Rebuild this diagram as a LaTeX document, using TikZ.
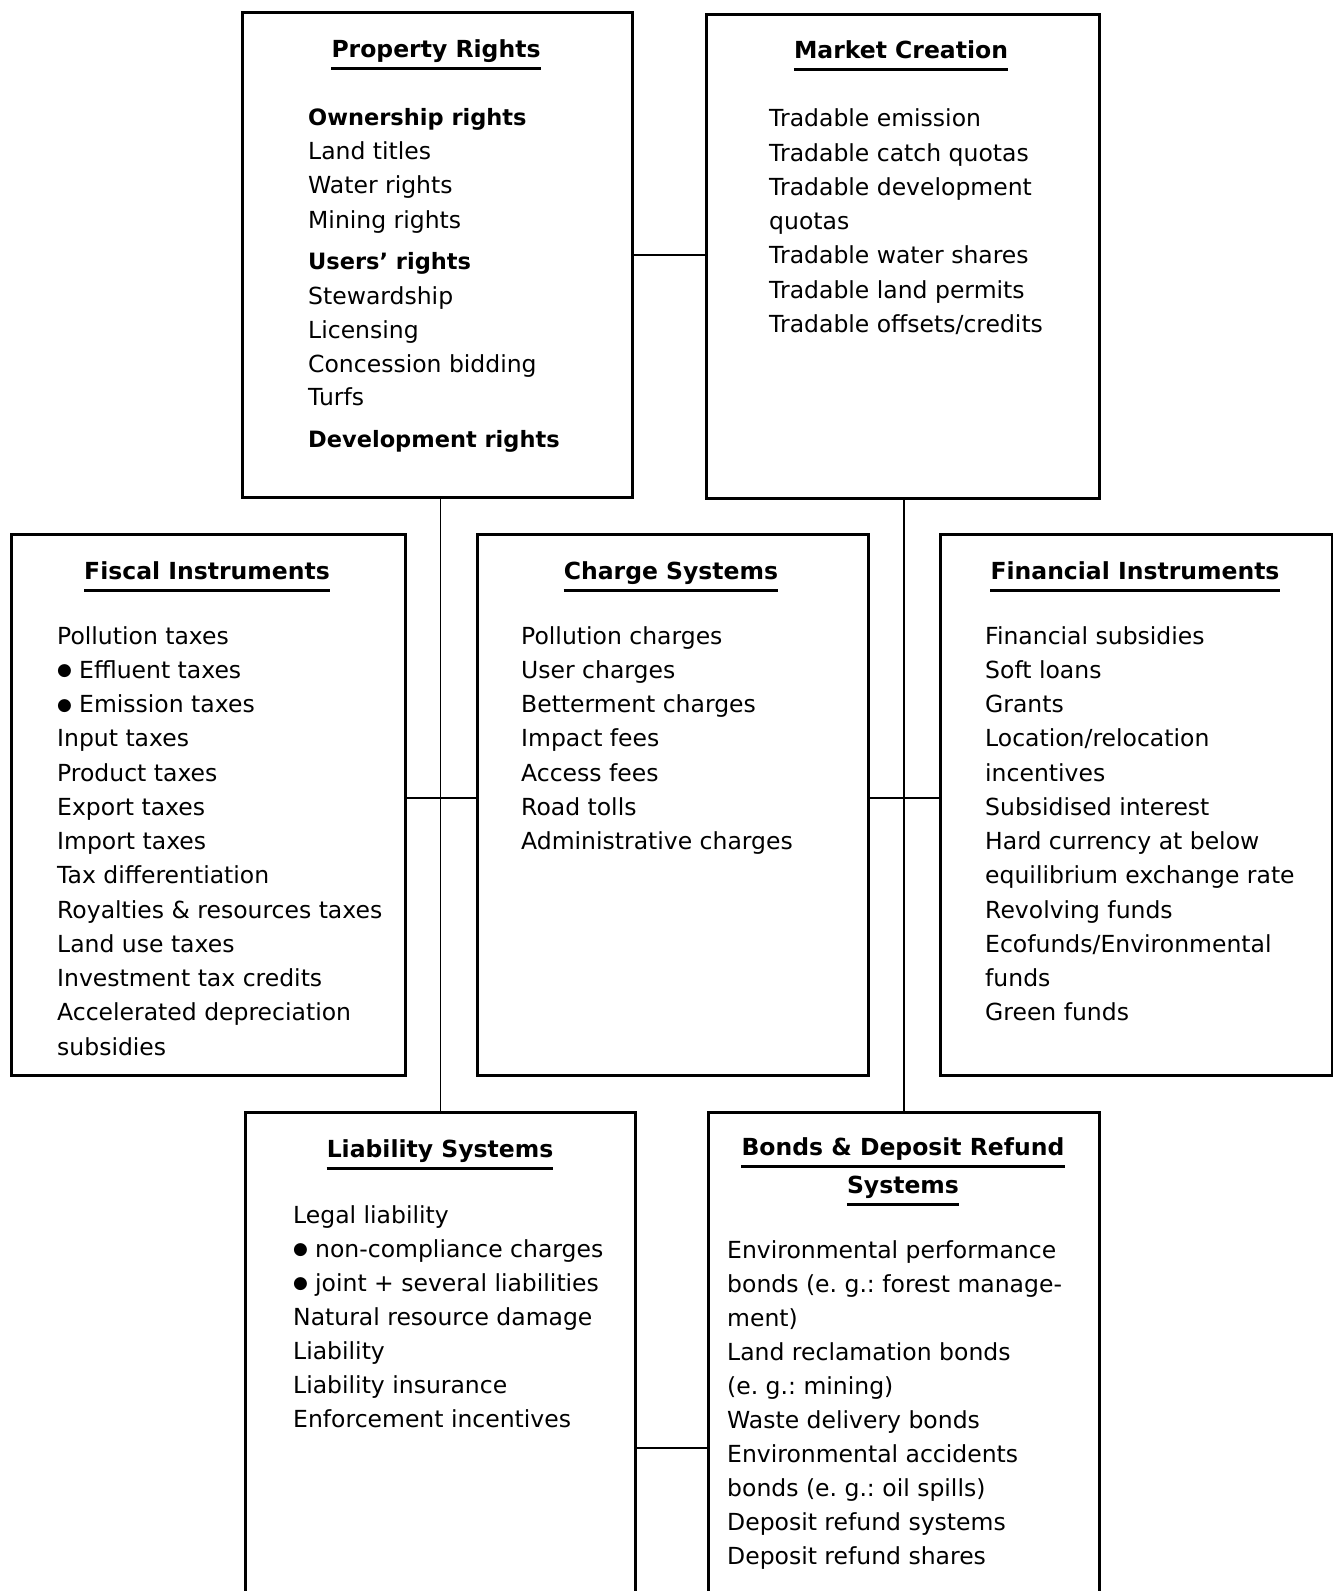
\documentclass[tikz,border=0pt]{standalone}
\usepackage{fontspec}
\setmainfont{DejaVu Sans}
\frenchspacing
\newcommand{\bul}{\makebox[22pt][l]{\fontsize{17}{17}\selectfont\raisebox{2.5pt}{●}}}
\newcommand{\bolditem}[1]{{\fontsize{22.5}{28}\selectfont\bfseries #1}}
\begin{document}
\begin{tikzpicture}[x=1pt,y=-1pt,
  box/.style={draw, line width=2.6pt, rectangle, inner sep=0pt, anchor=north west},
  link/.style={line width=1.4pt},
  head/.style={font=\fontsize{23.5}{28}\selectfont\bfseries, inner sep=0pt, anchor=base},
  item/.style={font=\fontsize{23.5}{28}\selectfont, inner sep=0pt, anchor=base west},
  uline/.style={line width=2.2pt}]
\useasboundingbox (0,0) rectangle (1333,1591);
\fill[white] (0,0) rectangle (1333,1591);

% the seven instrument boxes
\node[box, minimum width=390pt, minimum height=485pt] (pr) at (241,11) {};
\node[box, minimum width=393pt, minimum height=484pt] (mc) at (705,13) {};
\node[box, minimum width=394pt, minimum height=541pt] (fi) at (10,533) {};
\node[box, minimum width=391pt, minimum height=541pt] (ch) at (476,533) {};
\node[box, minimum width=392pt, minimum height=541pt] (fn) at (939,533) {};
\node[box, minimum width=390pt, minimum height=600pt] (li) at (244,1111) {};
\node[box, minimum width=391pt, minimum height=600pt] (bd) at (707,1111) {};

% connecting lines
\coordinate (midrow) at (0,798);
\coordinate (lowrow) at (0,1448);
\draw[link] (pr.east) -- (pr.east -| mc.west);
\draw[link] (li.north) -- (li.north |- pr.south);
\draw[link] (bd.north) -- (bd.north |- mc.south);
\draw[link] (fi.east |- midrow) -- (ch.west |- midrow);
\draw[link] (ch.east |- midrow) -- (fn.west |- midrow);
\draw[link] (li.east |- lowrow) -- (bd.west |- lowrow);

% headings with their rules
\node[head] (prh) at (436,57) {Property Rights};
\node[head] (mch) at (901,58) {Market Creation};
\node[head] (fih) at (207,579) {Fiscal Instruments};
\node[head] (chh) at (671,579) {Charge Systems};
\node[head] (fnh) at (1135,579) {Financial Instruments};
\node[head] (lih) at (440,1157) {Liability Systems};
\node[head] (bdh) at (903,1155) {Bonds \& Deposit Refund};
\node[head] (bdh2) at (903,1193) {Systems};
\foreach \h in {prh,mch,fih,chh,fnh,lih,bdh,bdh2}
  \draw[uline] ([yshift=-11.5pt]\h.base west) -- ([yshift=-11.5pt]\h.base east);

% Property Rights
\foreach \y/\t [count=\i] in {125/\bolditem{Ownership rights}, 159/Land titles, 193/Water rights,
  228/Mining rights, 269/\bolditem{Users’ rights}, 304/Stewardship, 338/Licensing,
  372/Concession bidding, 405/Turfs, 447/\bolditem{Development rights}}
  \node[item] (pr-\i) at (308,\y) {\t};

% Market Creation
\foreach \y/\t [count=\i] in {126/Tradable emission, 161/Tradable catch quotas,
  195/Tradable development, 229/quotas, 263/Tradable water shares,
  298/Tradable land permits, 332/{Tradable offsets/credits}}
  \node[item] (mc-\i) at (769,\y) {\t};

% Fiscal Instruments
\foreach \t [count=\i] in {Pollution taxes, \bul Effluent taxes, \bul Emission taxes,
  Input taxes, Product taxes, Export taxes, Import taxes, Tax differentiation,
  Royalties \& resources taxes, Land use taxes, Investment tax credits,
  Accelerated depreciation, subsidies}
  \node[item] (fi-\i) at (57,{644+34.25*(\i-1)}) {\t};

% Charge Systems
\foreach \t [count=\i] in {Pollution charges, User charges, Betterment charges,
  Impact fees, Access fees, Road tolls, Administrative charges}
  \node[item] (ch-\i) at (521,{644+34.25*(\i-1)}) {\t};

% Financial Instruments
\foreach \t [count=\i] in {Financial subsidies, Soft loans, Grants,
  {Location/relocation}, incentives, Subsidised interest, Hard currency at below,
  equilibrium exchange rate, Revolving funds, {Ecofunds/Environmental}, funds,
  Green funds}
  \node[item] (fn-\i) at (985,{644+34.25*(\i-1)}) {\t};

% Liability Systems
\foreach \t [count=\i] in {Legal liability, \bul non-compliance charges,
  \bul joint + several liabilities, Natural resource damage, Liability,
  Liability insurance, Enforcement incentives}
  \node[item] (li-\i) at (293,{1223+34*(\i-1)}) {\t};

% Bonds & Deposit Refund Systems
\foreach \t [count=\i] in {Environmental performance, {bonds (e. g.: forest manage-},
  ment), Land reclamation bonds, {(e. g.: mining)}, Waste delivery bonds,
  Environmental accidents, {bonds (e. g.: oil spills)}, Deposit refund systems,
  Deposit refund shares}
  \node[item] (bd-\i) at (727,{1258+34.1*(\i-1)}) {\t};
\end{tikzpicture}
\end{document}
